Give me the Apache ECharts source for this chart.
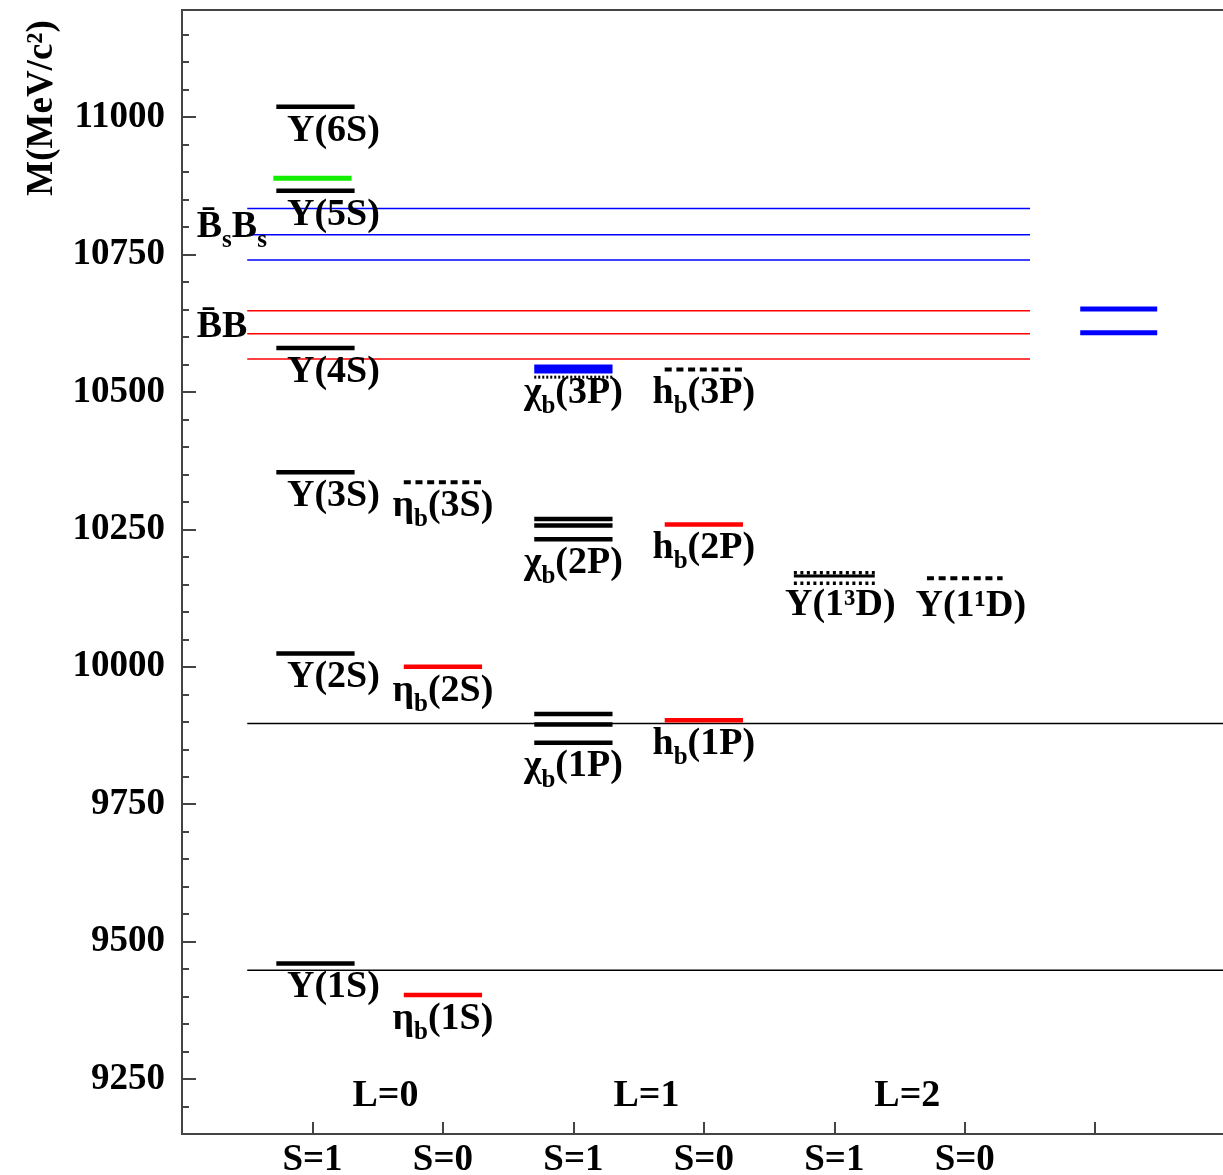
<!DOCTYPE html>
<html><head><meta charset="utf-8">
<script src="https://cdn.jsdelivr.net/npm/echarts@6/dist/echarts.min.js"></script>
<style>html,body{margin:0;padding:0;background:#fff}#chart{width:1223px;height:1175px}</style>
</head><body><div id="chart"></div>
<script>
// ---------------- data (masses in MeV/c^2) ----------------
const columnLabels = ['', 'S=1', 'S=0', 'S=1', 'S=0', 'S=1', 'S=0', '', ''];
const columnTicks = [1, 2, 3, 4, 5, 6, 7];
const columnLabelTicks = [1, 2, 3, 4, 5, 6];
const orbitalLabels = ['L=0', 'L=1', 'L=2'];
const yMajorTicks = [9250, 9500, 9750, 10000, 10250, 10500, 10750, 11000];
const yMinorTicks = [9200, 9300, 9350, 9400, 9450, 9550, 9600, 9650, 9700, 9800, 9850, 9900, 9950,
  10050, 10100, 10150, 10200, 10300, 10350, 10400, 10450, 10550, 10600, 10650, 10700,
  10800, 10850, 10900, 10950, 11050, 11100, 11150];

const upsilonS = [9460, 10024, 10354, 10580, 10866, 11019];
const upsilonSNames = ['1S', '2S', '3S', '4S', '5S', '6S'];
const upsilon10890 = [10889];
const etaB = [9403, 10000];
const etaBNames = ['1S', '2S'];
const etaB3S = [10336];
const chiB1P = [9914, 9895, 9862];
const chiB2P = [10269, 10257, 10232];
const chiB3P = [10542];
const chiB3PPred = [10527];
const hB = [9903, 10259];
const hBNames = ['1P', '2P'];
const hB3P = [10541];
const upsilon1D3 = [10165];
const upsilon1D3Pred = [10171, 10152];
const upsilon1D1 = [10161];
const zB = [10608, 10651];
const bsBsThresholds = [10740, 10786, 10834];
const bBThresholds = [10560, 10606, 10648];
const refLines = [9448, 9897];

// column positions on the x axis
const COL = { S1L0: 1, S0L0: 2, S1L1: 3, S0L1: 4, S1L2: 5, S0L2: 6, ZB: 7.18 };

// ---------------- styling helpers ----------------
const FONT = 'Liberation Serif';
const rich = {
  m: { fontSize: 38, fontFamily: FONT, fontWeight: 'bold', lineHeight: 52, fill: '#000', color: '#000' },
  s: { fontSize: 25, fontFamily: FONT, fontWeight: 'bold', lineHeight: 25, padding: [27, 0, 0, 0], fill: '#000', color: '#000' }
};

function lineSeries(data, st) {
  return {
    type: 'custom', silent: true, clip: false, z: st.z || 2,
    encode: { x: [0, 1], y: 2 },
    data: data,
    renderItem: function (params, api) {
      const a = api.coord([api.value(0), api.value(2)]);
      const b = api.coord([api.value(1), api.value(2)]);
      const dx = st.dx || 0;
      return {
        type: 'line',
        shape: { x1: a[0] + dx, y1: a[1], x2: b[0] + dx, y2: b[1] },
        style: { stroke: st.color, lineWidth: st.width, lineDash: st.dash || null, lineCap: 'butt' }
      };
    }
  };
}
function levels(x, masses, st, half) {
  const h = half || 0.3;
  return lineSeries(masses.map(m => [x - h, x + h, m]), st);
}
function labelSeries(items, st) {
  return {
    type: 'custom', silent: true, clip: false, z: 5,
    encode: { x: 0, y: 1 },
    data: items,
    renderItem: function (params, api) {
      const p = api.coord([api.value(0), api.value(1)]);
      const txt = items[params.dataIndex][2];
      return {
        type: 'text',
        x: p[0] + (st.dx || 0), y: p[1] + (st.dy || 0),
        style: {
          text: txt, rich: rich,
          align: st.align || 'center', textAlign: st.align || 'center',
          verticalAlign: 'middle', textVerticalAlign: 'middle',
          font: 'bold 38px "' + FONT + '"', fill: '#000'
        }
      };
    }
  };
}
const low = arr => Math.min.apply(null, arr);

const BLACK = { color: '#000', width: 4.5 };
const RED = { color: '#ff0000', width: 4.5 };
const DASH = { color: '#000', width: 4, dash: [7, 4.7] };

const series = [
  // thresholds / reference lines
  lineSeries(bsBsThresholds.map(m => [0.5, 6.5, m]), { color: '#0000ff', width: 1.5, z: 1 }),
  lineSeries(bBThresholds.map(m => [0.5, 6.5, m]), { color: '#ff0000', width: 1.5, z: 1 }),
  lineSeries(refLines.map(m => [0.5, 8, m]), { color: '#000', width: 1.5, z: 1 }),
  // L = 0
  levels(COL.S1L0, upsilonS, Object.assign({ dx: 3 }, BLACK)),
  levels(COL.S1L0, upsilon10890, { color: '#11ee00', width: 5 }),
  levels(COL.S0L0, etaB, RED),
  levels(COL.S0L0, etaB3S, DASH),
  // L = 1
  levels(COL.S1L1, chiB1P, BLACK),
  levels(COL.S1L1, chiB2P, BLACK),
  levels(COL.S1L1, chiB3PPred, { color: '#000', width: 3, dash: [2, 2] }),
  levels(COL.S1L1, chiB3P, { color: '#0000ff', width: 9, z: 3 }),
  levels(COL.S0L1, hB, RED),
  levels(COL.S0L1, hB3P, DASH),
  // L = 2
  levels(COL.S1L2, upsilon1D3, { color: '#000', width: 3 }, 0.31),
  levels(COL.S1L2, upsilon1D3Pred, { color: '#000', width: 3.5, dash: [3, 3.5] }, 0.31),
  levels(COL.S0L2, upsilon1D1, DASH, 0.29),
  // Z_b states
  levels(COL.ZB, zB, { color: '#0000ff', width: 5 }, 0.295),
  // labels
  labelSeries(upsilonS.map((m, i) => [COL.S1L0, m, '{m|Υ(' + upsilonSNames[i] + ')}']), { dx: 21, dy: 24 }),
  labelSeries(etaB.map((m, i) => [COL.S0L0, m, '{m|η}{s|b}{m|(' + etaBNames[i] + ')}']), { dx: 0, dy: 24 }),
  labelSeries([[COL.S0L0, etaB3S[0], '{m|η}{s|b}{m|(3S)}']], { dx: 0, dy: 24 }),
  labelSeries([[COL.S1L1, low(chiB1P), '{m|χ}{s|b}{m|(1P)}'],
               [COL.S1L1, low(chiB2P), '{m|χ}{s|b}{m|(2P)}'],
               [COL.S1L1, low(chiB3P), '{m|χ}{s|b}{m|(3P)}']], { dx: 0, dy: 24 }),
  labelSeries(hB.map((m, i) => [COL.S0L1, m, '{m|h}{s|b}{m|(' + hBNames[i] + ')}']), { dx: 0, dy: 24 }),
  labelSeries([[COL.S0L1, hB3P[0], '{m|h}{s|b}{m|(3P)}']], { dx: 0, dy: 24 }),
  labelSeries([[COL.S1L2, low(upsilon1D3Pred), '{m|Υ(1³D)}']], { dx: 6, dy: 22 }),
  labelSeries([[COL.S0L2, upsilon1D1[0], '{m|Υ(1¹D)}']], { dx: 6, dy: 28 }),
  labelSeries([[0.113, bsBsThresholds[1], '{m|B̄}{s|s}{m|B}{s|s}']], { align: 'left', dy: -8 }),
  labelSeries([[0.113, bBThresholds[1], '{m|B̄B}']], { align: 'left', dy: -7 }),
  labelSeries(orbitalLabels.map((t, i) => [2 * i + 1.56, 9219, '{m|' + t + '}']), { dx: 0, dy: 0 })
];

const chart = echarts.init(document.getElementById('chart'), null, { renderer: 'canvas' });
chart.setOption({
  animation: false,
  backgroundColor: '#fff',
  grid: {
    left: 182, top: 10, width: 1043.7, height: 1124,
    containLabel: false, outerBoundsMode: 'none',
    show: true, borderColor: '#444', borderWidth: 2, backgroundColor: 'transparent'
  },
  xAxis: {
    type: 'value', min: 0, max: 8,
    axisLine: { show: true, lineStyle: { color: '#444', width: 2 } },
    axisTick: { show: true, inside: true, length: 12, customValues: columnTicks, lineStyle: { color: '#444', width: 2 } },
    axisLabel: {
      show: true, customValues: columnLabelTicks, margin: 8,
      formatter: v => columnLabels[Math.round(v)] || '',
      fontSize: 37, fontFamily: FONT, fontWeight: 'bold', color: '#000'
    },
    splitLine: { show: false }
  },
  yAxis: [{
    type: 'value', min: 9150, max: 11195, position: 'left', offset: 0,
    axisLine: { show: true, lineStyle: { color: '#444', width: 2 } },
    axisTick: { show: true, inside: true, length: 14, customValues: yMajorTicks, lineStyle: { color: '#444', width: 2 } },
    axisLabel: {
      show: true, customValues: yMajorTicks, margin: 17, formatter: v => String(v),
      fontSize: 37, fontFamily: FONT, fontWeight: 'bold', color: '#000'
    },
    splitLine: { show: false }
  }, {
    type: 'value', min: 9150, max: 11195, position: 'left', offset: 0,
    axisLine: { show: false },
    axisTick: { show: true, inside: true, length: 7, customValues: yMinorTicks, lineStyle: { color: '#444', width: 2 } },
    axisLabel: { show: false },
    splitLine: { show: false }
  }],
  graphic: [{
    type: 'text', x: 42, y: 108, rotation: Math.PI / 2,
    style: { text: 'M(MeV/c²)', font: 'bold 37px "' + FONT + '"', fill: '#000', align: 'center', verticalAlign: 'middle' }
  }],
  series: series
});
</script>
</body></html>
